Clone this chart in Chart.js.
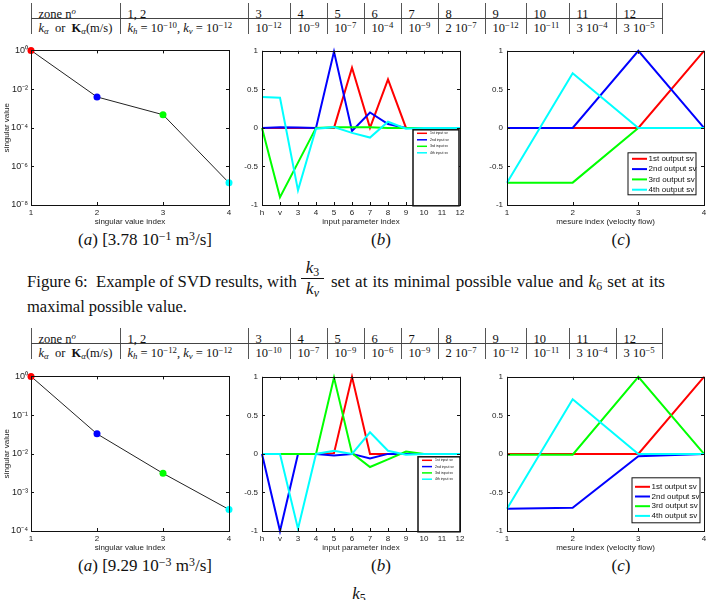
<!DOCTYPE html>
<html>
<head>
<meta charset="utf-8">
<script src="https://cdn.jsdelivr.net/npm/chart.js@4/dist/chart.umd.min.js"></script>
<style>
    body { margin: 0; width: 714px; height: 600px; overflow: hidden; position: relative; background: #fff; color: #111; font-family: "Liberation Serif", "DejaVu Serif", serif; }
    canvas { position: absolute; }
    .txt { position: absolute; white-space: nowrap; }
    .cell { position: absolute; white-space: nowrap; font-size: 12.5px; line-height: 14px; }
    .vline { position: absolute; width: 1px; background: #555; }
    .hline { position: absolute; height: 1px; background: #444; }
    .cap { position: absolute; font-size: 17px; line-height: 20px; white-space: nowrap; transform: translateX(-50%); }
    sup, sub { font-size: 0.7em; line-height: 0; position: relative; vertical-align: baseline; }
    sup { top: -0.45em; }
    sub { top: 0.25em; }
    .just { position: absolute; font-size: 17px; line-height: 20px; white-space: normal; text-align: justify; text-align-last: justify; }
    .frac { position: absolute; font-size: 17px; text-align: center; }
    .frac .bar { border-top: 1px solid #111; margin: 1px 0; }
</style>
</head>
<body>

<canvas id="svd6a"></canvas>
<canvas id="svd6b"></canvas>
<canvas id="svd6c"></canvas>
<canvas id="svd7a"></canvas>
<canvas id="svd7b"></canvas>
<canvas id="svd7c"></canvas>

<script>
"use strict"

// ---- table contents ----
const zoneIds = ['1, 2', '3', '4', '5', '6', '7', '8', '9', '10', '11', '12'];
const permFig6 = ['<i>k<sub>h</sub></i> = 10<sup>−10</sup>, <i>k<sub>v</sub></i> = 10<sup>−12</sup>', '10<sup>−12</sup>', '10<sup>−9</sup>', '10<sup>−7</sup>',
    '10<sup>−4</sup>', '10<sup>−9</sup>', '2 10<sup>−7</sup>', '10<sup>−12</sup>', '10<sup>−11</sup>', '3 10<sup>−4</sup>', '3 10<sup>−5</sup>'];
const permFig7 = ['<i>k<sub>h</sub></i> = 10<sup>−12</sup>, <i>k<sub>v</sub></i> = 10<sup>−12</sup>', '10<sup>−10</sup>', '10<sup>−7</sup>', '10<sup>−9</sup>',
    '10<sup>−6</sup>', '10<sup>−9</sup>', '2 10<sup>−7</sup>', '10<sup>−12</sup>', '10<sup>−11</sup>', '3 10<sup>−4</sup>', '3 10<sup>−5</sup>'];

// ---- (a) singular values ----
const svIndex = [1, 2, 3, 4];
const svValuesFig6 = [1, 3.9e-3, 4.7e-4, 1.4e-7];
const svValuesFig7 = [1, 3.26e-2, 3.1e-3, 3.6e-4];
const svTicksFig6 = [1e-8, 1e-6, 1e-4, 1e-2, 1];
const svTicksFig7 = [1e-4, 1e-3, 1e-2, 1e-1, 1];

// ---- (b) input singular vectors ----
const paramLabels = ['h', 'v', '3', '4', '5', '6', '7', '8', '9', '10', '11', '12'];
const inputLabels = ['1st input sv', '2nd input sv', '3rd input sv', '4th input sv'];
const input1Fig6 = [0, 0, 0, 0, 0, 0.78, 0, 0.63, 0, 0, 0, 0];
const input2Fig6 = [0, 0.01, 0.005, 0, 0.99, -0.04, 0.2, 0.05, 0, 0, 0, 0];
const input3Fig6 = [0, -0.9, -0.45, 0, 0.01, 0.01, 0.01, 0, 0, 0, 0, 0];
const input4Fig6 = [0.4, 0.39, -0.81, -0.01, 0.01, -0.065, -0.125, 0.08, -0.01, 0, 0, 0];
const input1Fig7 = [0, 0, 0, 0, 0.01, 1, 0, 0, 0, 0, 0, 0];
const input2Fig7 = [0, -1, 0, 0, -0.02, 0, -0.06, 0, 0, 0, 0, 0];
const input3Fig7 = [0, 0, 0, 0, 0.99, 0.01, -0.17, -0.07, 0.03, 0, 0, 0];
const input4Fig7 = [0, 0, -0.97, 0, 0.04, 0, 0.28, 0.04, -0.01, 0, 0, 0];

// ---- (c) output singular vectors ----
const mesureIndex = [1, 2, 3, 4];
const outputLabels = ['1st output sv', '2nd output sv', '3rd output sv', '4th output sv'];
const output1Fig6 = [0, 0, 0, 1];
const output2Fig6 = [0, 0, 1, 0];
const output3Fig6 = [-0.71, -0.71, 0, 0];
const output4Fig6 = [-0.71, 0.71, 0, 0];
const output1Fig7 = [0, 0, 0, 1];
const output2Fig7 = [-0.71, -0.70, -0.03, 0];
const output3Fig7 = [-0.01, -0.01, 1, 0];
const output4Fig7 = [-0.71, 0.71, 0, 0];

const linTicks = [-1, -0.5, 0, 0.5, 1];

const svColors = ['#ff0000', '#0000ff', '#00ff00', '#00ffff'];
const SANS = '"Liberation Sans", Arial, sans-serif';
const tickFont = { family: SANS, size: 8 };

/**
 * Builds the zone table (two rows) with its vertical rules.
 */
function buildTable(top, perms) {
    const lines = [31, 120, 248, 290, 327, 364, 401, 438, 485, 526, 569, 616, 662];
    const row1 = ['zone n<sup><i>o</i></sup>', ...zoneIds];
    const row2 = ['<i>k<sub>α</sub></i>&nbsp; or &nbsp;<b>K</b><sub><i>α</i></sub>(m/s)', ...perms];
    let html = '';
    lines.forEach(x => { html += `<div class="vline" style="left:${x}px;top:${top}px;height:31px"></div>`; });
    html += `<div class="hline" style="left:31px;top:${top + 15}px;width:632px"></div>`;
    row1.forEach((t, i) => { html += `<div class="cell" style="left:${lines[i] + 7.5}px;top:${top + 4}px">${t}</div>`; });
    row2.forEach((t, i) => { html += `<div class="cell" style="left:${lines[i] + 7.5}px;top:${top + 18}px">${t}</div>`; });
    document.body.insertAdjacentHTML('beforeend', html);
}

function addText(html) {
    document.body.insertAdjacentHTML('beforeend', html);
}

const supMap = { '-': '⁻', '0': '⁰', '1': '¹', '2': '²', '3': '³', '4': '⁴', '5': '⁵', '6': '⁶', '7': '⁷', '8': '⁸', '9': '⁹' };
const pow10 = v => '10' + String(Math.round(Math.log10(v))).split('').map(c => supMap[c]).join('');

/**
 * Draws the MATLAB style box round the axes, with inward ticks on all four sides.
 */
const framePlugin = {
    id: 'frame',
    afterDraw(chart) {
        const { ctx, chartArea: a, scales } = chart;
        const len = 3;
        ctx.save();
        ctx.strokeStyle = '#111';
        ctx.lineWidth = 1;
        ctx.beginPath();
        scales.x.ticks.forEach((t, i) => {
            const px = Math.round(scales.x.getPixelForTick(i)) + 0.5;
            ctx.moveTo(px, a.bottom); ctx.lineTo(px, a.bottom - len);
            ctx.moveTo(px, a.top); ctx.lineTo(px, a.top + len);
        });
        scales.y.ticks.forEach((t, i) => {
            const py = Math.round(scales.y.getPixelForTick(i)) + 0.5;
            ctx.moveTo(a.left, py); ctx.lineTo(a.left + len, py);
            ctx.moveTo(a.right, py); ctx.lineTo(a.right - len, py);
        });
        ctx.stroke();
        ctx.strokeRect(Math.round(a.left) + 0.5, Math.round(a.top) + 0.5, Math.round(a.right - a.left), Math.round(a.bottom - a.top));
        ctx.restore();
    }
};

/**
 * Draws a boxed legend inside the plot area, at a given offset from its top left corner.
 */
const boxLegend = {
    id: 'boxLegend',
    afterDraw(chart, args, o) {
        if (!o || !o.w) return;
        const { ctx, chartArea: a } = chart;
        const x = a.left + o.x, y = a.top + o.y;
        ctx.save();
        ctx.fillStyle = '#fff';
        ctx.fillRect(x, y, o.w, o.h);
        ctx.font = `${o.size}px ${SANS}`;
        ctx.textBaseline = 'middle';
        chart.data.datasets.forEach((ds, i) => {
            const ry = y + o.first + i * o.gap;
            ctx.strokeStyle = ds.borderColor;
            ctx.lineWidth = o.lw;
            ctx.beginPath();
            ctx.moveTo(x + o.lineX, ry);
            ctx.lineTo(x + o.lineX + o.lineLen, ry);
            ctx.stroke();
            ctx.fillStyle = '#111';
            ctx.fillText(ds.label, x + o.lineX + o.lineLen + o.textGap, ry);
        });
        ctx.strokeStyle = '#111';
        ctx.lineWidth = o.border;
        ctx.strokeRect(x, y, o.w, o.h);
        ctx.restore();
    }
};

/**
 * Sizes and places a canvas so that the chart area lands on the given page rectangle.
 */
function placeChart(id, area, yw, config) {
    const pad = 8, xh = 24;
    const canvas = document.getElementById(id);
    const w = area.r - area.l + yw + pad;
    const h = area.b - area.t + pad + xh;
    canvas.width = w;
    canvas.height = h;
    canvas.style.width = w + 'px';
    canvas.style.height = h + 'px';
    canvas.style.left = (area.l - yw) + 'px';
    canvas.style.top = (area.t - pad) + 'px';

    const opts = config.options;
    opts.responsive = false;
    opts.animation = false;
    opts.layout = { padding: { top: pad, right: pad, left: 0, bottom: 0 } };
    opts.scales.x.afterFit = s => { s.height = xh; };
    opts.scales.y.afterFit = s => { s.width = yw; };
    opts.plugins = Object.assign({ legend: { display: false }, tooltip: { enabled: false } }, opts.plugins);
    config.plugins = [framePlugin, boxLegend];
    return new Chart(canvas, config);
}

function axisX(type, title, extra) {
    return Object.assign({
        type: type,
        grid: { display: false, drawTicks: false },
        border: { display: false },
        ticks: { font: tickFont, color: '#222', padding: 3, maxRotation: 0, autoSkip: false },
        title: { display: true, text: title, font: tickFont, color: '#222', padding: { top: 0, bottom: 2 } }
    }, extra);
}

function svChart(id, area, values, tickValues) {
    return placeChart(id, area, 31, {
        type: 'line',
        data: {
            datasets: [{
                data: svIndex.map((x, i) => ({ x: x, y: values[i] })),
                borderColor: '#222',
                borderWidth: 1,
                pointRadius: 3.5,
                pointBackgroundColor: svColors,
                pointBorderColor: svColors,
                pointBorderWidth: 0,
                tension: 0,
                clip: false
            }]
        },
        options: {
            scales: {
                x: axisX('linear', 'singular value index', {
                    min: 1, max: 4,
                    afterBuildTicks: s => { s.ticks = svIndex.map(v => ({ value: v })); }
                }),
                y: {
                    type: 'logarithmic',
                    min: tickValues[0], max: tickValues[tickValues.length - 1],
                    grid: { display: false, drawTicks: false },
                    border: { display: false },
                    afterBuildTicks: s => { s.ticks = tickValues.map(v => ({ value: v })); },
                    ticks: { font: { family: SANS, size: 9 }, color: '#222', padding: 3, callback: v => pow10(v) },
                    title: { display: true, text: 'singular value', font: tickFont, color: '#222', padding: { top: 2, bottom: 0 } }
                }
            }
        }
    });
}

function vectorChart(id, area, xType, xTitle, labels, series, legendLabels, legendOpts, xValues) {
    const datasets = series.map((s, i) => ({
        label: legendLabels[i],
        data: xValues ? xValues.map((x, j) => ({ x: x, y: s[j] })) : s,
        borderColor: svColors[i],
        borderWidth: 2,
        pointRadius: 0,
        tension: 0,
        clip: false,
        order: series.length - i
    }));
    const xExtra = xType === 'linear'
        ? { min: 1, max: 4, afterBuildTicks: s => { s.ticks = xValues.map(v => ({ value: v })); } }
        : { offset: false };
    return placeChart(id, area, 24, {
        type: 'line',
        data: { labels: labels, datasets: datasets },
        options: {
            scales: {
                x: axisX(xType, xTitle, xExtra),
                y: {
                    type: 'linear', min: -1, max: 1,
                    grid: { display: false, drawTicks: false },
                    border: { display: false },
                    afterBuildTicks: s => { s.ticks = linTicks.map(v => ({ value: v })); },
                    ticks: { font: tickFont, color: '#222', padding: 4, callback: v => String(v) }
                }
            },
            plugins: { boxLegend: legendOpts }
        }
    });
}

// ---- text of the page ----
buildTable(3, permFig6);
buildTable(328, permFig7);

addText(`<div class="cap" style="left:145px;top:230px">(<i>a</i>) [3.78 10<sup>−1</sup> m<sup>3</sup>/s]</div>`);
addText(`<div class="cap" style="left:381px;top:230px">(<i>b</i>)</div>`);
addText(`<div class="cap" style="left:621px;top:230px">(<i>c</i>)</div>`);
addText(`<div class="cap" style="left:145px;top:556px">(<i>a</i>) [9.29 10<sup>−3</sup> m<sup>3</sup>/s]</div>`);
addText(`<div class="cap" style="left:381px;top:556px">(<i>b</i>)</div>`);
addText(`<div class="cap" style="left:621px;top:556px">(<i>c</i>)</div>`);

addText(`<div class="txt" style="left:27px;top:272px;font-size:16.7px;line-height:20px">Figure 6:&nbsp; Example of SVD results, with</div>`);
addText(`<div class="frac" style="left:301px;top:259px;width:23px;line-height:18px"><div><i>k</i><sub>3</sub></div><div class="bar"></div><div><i>k<sub>v</sub></i></div></div>`);
addText(`<div class="just" style="left:331px;top:272px;width:334px">set at its minimal possible value and <i>k</i><sub>6</sub> set at its</div>`);
addText(`<div class="txt" style="left:27px;top:297px;font-size:16.5px;line-height:20px">maximal possible value.</div>`);
addText(`<div class="frac" style="left:348px;top:585px;width:22px;line-height:18px"><div><i>k</i><sub>5</sub></div><div class="bar"></div><div><i>k<sub>v</sub></i></div></div>`);

// ---- the six plots ----
const rowTop6 = { t: 50, b: 205 };
const rowTop7 = { t: 376, b: 531 };

svChart('svd6a', { l: 31, r: 229, ...rowTop6 }, svValuesFig6, svTicksFig6);
svChart('svd7a', { l: 31, r: 229, ...rowTop7 }, svValuesFig7, svTicksFig7);

vectorChart('svd6b', { l: 262, r: 460, ...rowTop6 }, 'category', 'input parameter index', paramLabels,
    [input1Fig6, input2Fig6, input3Fig6, input4Fig6], inputLabels,
    { x: 151, y: 79, w: 46, h: 76, first: 3.5, gap: 6.5, lineX: 4, lineLen: 10, textGap: 3, size: 3.5, lw: 1.5, border: 1.5 });
vectorChart('svd7b', { l: 262, r: 460, ...rowTop7 }, 'category', 'input parameter index', paramLabels,
    [input1Fig7, input2Fig7, input3Fig7, input4Fig7], inputLabels,
    { x: 156, y: 80, w: 42, h: 75, first: 3.5, gap: 6.3, lineX: 4, lineLen: 10, textGap: 3, size: 3.5, lw: 1.5, border: 1.5 });

vectorChart('svd6c', { l: 507, r: 704, ...rowTop6 }, 'linear', 'mesure index (velocity flow)', null,
    [output1Fig6, output2Fig6, output3Fig6, output4Fig6], outputLabels,
    { x: 121, y: 102, w: 68, h: 42, first: 6, gap: 10.3, lineX: 4, lineLen: 15, textGap: 1.5, size: 8, lw: 2, border: 1 }, mesureIndex);
vectorChart('svd7c', { l: 507, r: 704, ...rowTop7 }, 'linear', 'mesure index (velocity flow)', null,
    [output1Fig7, output2Fig7, output3Fig7, output4Fig7], outputLabels,
    { x: 125, y: 101, w: 68, h: 45, first: 9, gap: 9.7, lineX: 3, lineLen: 15, textGap: 1.5, size: 8, lw: 2, border: 1 }, mesureIndex);
</script>
</body>
</html>
